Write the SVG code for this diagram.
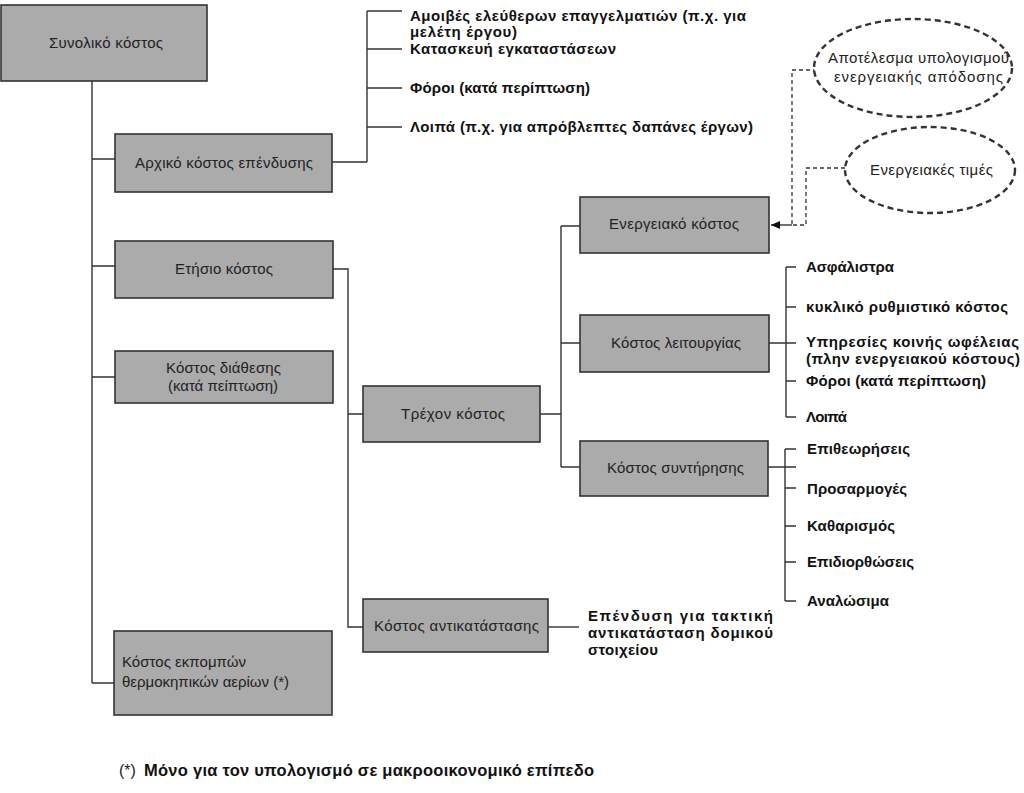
<svg xmlns="http://www.w3.org/2000/svg" width="1024" height="793" viewBox="0 0 1024 793">
<defs>
<marker id="arr" viewBox="0 0 10 10" refX="0" refY="5" markerWidth="9" markerHeight="9" orient="0" markerUnits="userSpaceOnUse">
<path d="M0,5 L10,0.5 L10,9.5 z" fill="#111"/>
</marker>
<style>
.box{fill:#ababab;stroke:#333;stroke-width:1.6}
.bt{font-family:"Liberation Sans",Arial,sans-serif;font-size:15px;fill:#222}
.lt{font-family:"Liberation Sans",Arial,sans-serif;font-size:15px;font-weight:bold;fill:#111}
.ln{fill:none;stroke:#333;stroke-width:1.4}
.dl{fill:none;stroke:#333;stroke-width:1.3;stroke-dasharray:4,3}
.el{fill:#fff;stroke:#333;stroke-width:2.4;stroke-dasharray:6,4}
</style>
</defs>
<rect width="1024" height="793" fill="#fff"/>
<g id="connectors">
<path class="ln" d="M92,81 V683 M92,159 H115 M92,266 H115 M92,377 H115 M92,683 H114"/>
<path class="ln" d="M332,162 H367 M367,11 V162 M367,11 H402 M367,49 H402 M367,88 H402 M367,127 H402"/>
<path class="ln" d="M333,269 H348 V627 H363 M348,414 H363"/>
<path class="ln" d="M540,414 H561 M561,226 V467 M561,226 H580 M561,343 H580 M561,467 H580"/>
<path class="ln" d="M769,343 H796 M786,267 V417 M786,267 H796 M786,307 H796 M786,381 H796 M786,417 H796"/>
<path class="ln" d="M768,467 H796 M785,449 V601 M785,449 H796 M785,488 H796 M785,526 H796 M785,562 H796 M785,601 H796"/>
<path class="ln" d="M548,627 H579"/>
<path class="dl" d="M817,70 H792 V225 M845,168 H806 V225 H792"/>
<path class="ln" d="M792,225 H771" marker-end="url(#arr)"/>
</g>
<g id="n-total"><rect class="box" x="1" y="5" width="206" height="76"/><text class="bt" x="49" y="48" textLength="114" lengthAdjust="spacing">Συνολικό κόστος</text></g>
<g id="n-initial"><rect class="box" x="115" y="134" width="217" height="58"/><text class="bt" x="135" y="168" textLength="178" lengthAdjust="spacing">Αρχικό κόστος επένδυσης</text></g>
<g id="n-initial-items">
<text class="lt" x="410" y="21" textLength="336" lengthAdjust="spacing">Αμοιβές ελεύθερων επαγγελματιών (π.χ. για</text>
<text class="lt" x="410" y="37" textLength="107" lengthAdjust="spacing">μελέτη έργου)</text>
<text class="lt" x="410" y="54" textLength="206" lengthAdjust="spacing">Κατασκευή εγκαταστάσεων</text>
<text class="lt" x="410" y="93" textLength="180" lengthAdjust="spacing">Φόροι (κατά περίπτωση)</text>
<text class="lt" x="410" y="132" textLength="343" lengthAdjust="spacing">Λοιπά (π.χ. για απρόβλεπτες δαπάνες έργων)</text>
</g>
<g id="n-annual"><rect class="box" x="115" y="241" width="218" height="57"/><text class="bt" x="175" y="274" textLength="98" lengthAdjust="spacing">Ετήσιο κόστος</text></g>
<g id="n-disposal"><rect class="box" x="115" y="351" width="218" height="52"/><text class="bt" x="166" y="373" textLength="115" lengthAdjust="spacing">Κόστος διάθεσης</text><text class="bt" x="168" y="391" textLength="110" lengthAdjust="spacing">(κατά πείπτωση)</text></g>
<g id="n-emissions"><rect class="box" x="114" y="631" width="218" height="84"/><text class="bt" x="122" y="667" textLength="124" lengthAdjust="spacing">Κόστος εκπομπών</text><text class="bt" x="122" y="687" textLength="167" lengthAdjust="spacing">θερμοκηπικών αερίων (*)</text></g>
<g id="n-running"><rect class="box" x="363" y="386" width="177" height="56"/><text class="bt" x="401" y="419" textLength="104" lengthAdjust="spacing">Τρέχον κόστος</text></g>
<g id="n-replacement"><rect class="box" x="363" y="599" width="185" height="53"/><text class="bt" x="374" y="631" textLength="165" lengthAdjust="spacing">Κόστος αντικατάστασης</text></g>
<g id="n-replacement-item">
<text class="lt" x="588" y="621" textLength="185" lengthAdjust="spacing">Επένδυση για τακτική</text>
<text class="lt" x="588" y="638" textLength="185" lengthAdjust="spacing">αντικατάσταση δομικού</text>
<text class="lt" x="588" y="655" textLength="70" lengthAdjust="spacing">στοιχείου</text>
</g>
<g id="n-energy"><rect class="box" x="580" y="197" width="189" height="56"/><text class="bt" x="609" y="229" textLength="130" lengthAdjust="spacing">Ενεργειακό κόστος</text></g>
<g id="n-operation"><rect class="box" x="580" y="315" width="189" height="57"/><text class="bt" x="611" y="348" textLength="130" lengthAdjust="spacing">Κόστος λειτουργίας</text></g>
<g id="n-maintenance"><rect class="box" x="580" y="441" width="188" height="55"/><text class="bt" x="607" y="473" textLength="137" lengthAdjust="spacing">Κόστος συντήρησης</text></g>
<g id="n-operation-items">
<text class="lt" x="806" y="272" textLength="88" lengthAdjust="spacing">Ασφάλιστρα</text>
<text class="lt" x="806" y="312" textLength="202" lengthAdjust="spacing">κυκλικό ρυθμιστικό κόστος</text>
<text class="lt" x="806" y="347" textLength="213" lengthAdjust="spacing">Υπηρεσίες κοινής ωφέλειας</text>
<text class="lt" x="806" y="364" textLength="214" lengthAdjust="spacing">(πλην ενεργειακού κόστους)</text>
<text class="lt" x="806" y="386" textLength="180" lengthAdjust="spacing">Φόροι (κατά περίπτωση)</text>
<text class="lt" x="806" y="422" textLength="41" lengthAdjust="spacing">Λοιπά</text>
</g>
<g id="n-maintenance-items">
<text class="lt" x="807" y="454" textLength="103" lengthAdjust="spacing">Επιθεωρήσεις</text>
<text class="lt" x="807" y="494" textLength="100" lengthAdjust="spacing">Προσαρμογές</text>
<text class="lt" x="807" y="531" textLength="88" lengthAdjust="spacing">Καθαρισμός</text>
<text class="lt" x="807" y="567" textLength="107" lengthAdjust="spacing">Επιδιορθώσεις</text>
<text class="lt" x="807" y="606" textLength="82" lengthAdjust="spacing">Αναλώσιμα</text>
</g>
<g id="n-result"><ellipse class="el" cx="913" cy="68" rx="99" ry="49"/><text class="bt" x="828" y="63" textLength="181" lengthAdjust="spacing">Αποτέλεσμα υπολογισμού</text><text class="bt" x="834" y="82" textLength="169" lengthAdjust="spacing">ενεργειακής απόδοσης</text></g>
<g id="n-prices"><ellipse class="el" cx="930" cy="170" rx="85" ry="43"/><text class="bt" x="870" y="175" textLength="123" lengthAdjust="spacing">Ενεργειακές τιμές</text></g>
<g id="footnote"><text class="bt" x="119" y="776" style="font-size:16px">(*)</text><text class="lt" x="144" y="776" style="font-size:16.5px" textLength="450" lengthAdjust="spacing">Μόνο για τον υπολογισμό σε μακροοικονομικό επίπεδο</text></g>
</svg>
